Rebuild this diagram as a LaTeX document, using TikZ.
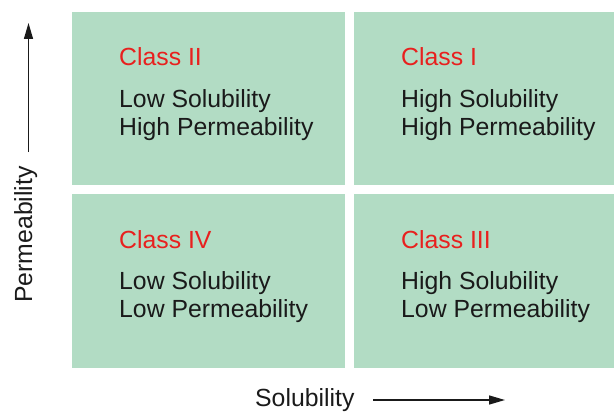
\documentclass[tikz,border=0pt]{standalone}
\usepackage{fontspec}
\setmainfont{Liberation Sans}
\usetikzlibrary{arrows.meta}
\definecolor{boxgreen}{RGB}{178,220,196}
\definecolor{classred}{RGB}{232,32,30}
\definecolor{ink}{RGB}{26,26,26}
\tikzset{
  quad/.style={fill=boxgreen, draw=none, inner sep=0pt},
  lbl/.style={anchor=base west, inner sep=0pt, text=ink, font=\fontsize{24.8}{28}\selectfont},
  cls/.style={lbl, text=classred},
  axis/.style={line width=1.4pt, draw=ink, -{Triangle[length=16pt,width=9pt]}},
  axlbl/.style={inner sep=0pt, text=ink, font=\fontsize{24.8}{28}\selectfont}
}
\begin{document}
\begin{tikzpicture}[x=1pt,y=-1pt]
\useasboundingbox (0,0) rectangle (615,412);
% quadrants
\node[quad, minimum width=273pt, minimum height=173pt] (q2) at (208.5,98.5) {};
\node[quad, minimum width=260pt, minimum height=173pt] (q1) at (484,98.5) {};
\node[quad, minimum width=273pt, minimum height=174pt] (q4) at (208.5,281) {};
\node[quad, minimum width=260pt, minimum height=174pt] (q3) at (484,281) {};
% texts
\node[cls] (c2) at (119,65) {Class II};
\node[lbl] (c2a) at (119,107) {Low Solubility};
\node[lbl] (c2b) at (119,135) {High Permeability};
\node[cls] (c1) at (401,65) {Class I};
\node[lbl] (c1a) at (401,107) {High Solubility};
\node[lbl] (c1b) at (401,135) {High Permeability};
\node[cls] (c4) at (119,248) {Class IV};
\node[lbl] (c4a) at (119,289) {Low Solubility};
\node[lbl] (c4b) at (119,317) {Low Permeability};
\node[cls] (c3) at (401,248) {Class III};
\node[lbl] (c3a) at (401,289) {High Solubility};
\node[lbl] (c3b) at (401,317) {Low Permeability};
% axes
\node[axlbl, rotate=90, anchor=base west] (py) at (32,303) {Permeability};
\coordinate (pys) at (28.5,152);
\coordinate (pye) at (28.5,23);
\draw[axis] (pys) -- (pye);
\node[axlbl, anchor=base west] (sx) at (255,406.5) {Solubility};
\coordinate (sxs) at (373,400);
\coordinate (sxe) at (505,400);
\draw[axis] (sxs) -- (sxe);
\end{tikzpicture}
\end{document}
